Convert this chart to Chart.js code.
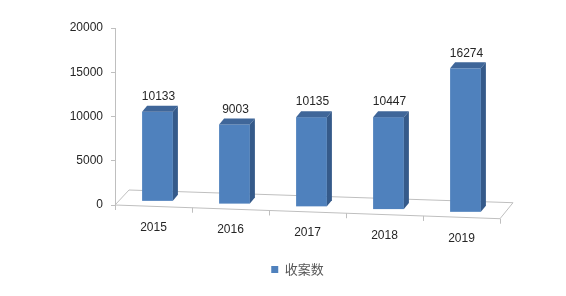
<!DOCTYPE html>
<html>
<head>
<meta charset="utf-8">
<script src="https://cdn.jsdelivr.net/npm/chart.js@4/dist/chart.umd.min.js"></script>
<style>
  html,body{margin:0;padding:0;background:#fff;}
  #wrap{width:566px;height:296px;}
</style>
</head>
<body>
<div id="wrap"><canvas id="c" width="566" height="296"></canvas></div>
<script>
// data
const years=['2015','2016','2017','2018','2019'];
const cases=[10133,9003,10135,10447,16274];
const seriesName='收案数';
const yTicks=[0,5000,10000,15000,20000];

// fake 3d look
const SLOPE=0.0356;          // floor drops to the right
const FLOOR_DX=14, FLOOR_DY=15;
const BAR_DX=5, BAR_DY=6;
const BAR_SHIFT_X=4, BAR_SHIFT_Y=-5;
const LEGEND_SHIFT=20;
const FRONT='#4F81BD', TOP='#3F6699', SIDE='#355A8A';
const LINE='#BFBFBF';
const NUM_FONT='12px "Liberation Sans", Arial, sans-serif';

const fake3d={
  id:'fake3d',
  afterLayout(chart){
    // legend sits a bit right of the canvas centre in the original
    if(chart.legend){chart.legend.left+=LEGEND_SHIFT;chart.legend.right+=LEGEND_SHIFT;}
  },
  beforeDatasetsDraw(chart){
    const {ctx,chartArea:a,scales:{x}}=chart;
    const drop=px=>SLOPE*(px-a.left);
    ctx.save();
    // floor
    ctx.strokeStyle=LINE;ctx.lineWidth=1;
    const fl=[a.left,a.bottom], fr=[a.right,a.bottom+drop(a.right)];
    ctx.beginPath();
    ctx.moveTo(fl[0],fl[1]);ctx.lineTo(fr[0],fr[1]);
    ctx.lineTo(fr[0]+FLOOR_DX-1,fr[1]-FLOOR_DY-1);
    ctx.lineTo(fl[0]+FLOOR_DX,fl[1]-FLOOR_DY);
    ctx.closePath();
    ctx.stroke();
    // ticks under the front edge
    ctx.beginPath();
    for(let i=0;i<=years.length;i++){
      const px=i<years.length?x.getPixelForValue(i)-(x.getPixelForValue(1)-x.getPixelForValue(0))/2:a.right;
      const py=a.bottom+drop(px);
      ctx.moveTo(Math.round(px)+0.5,py);ctx.lineTo(Math.round(px)+0.5,py+5);
    }
    ctx.stroke();
    // x labels following the slope
    ctx.fillStyle='#262626';ctx.font=NUM_FONT;ctx.textAlign='center';ctx.textBaseline='middle';
    years.forEach((lab,i)=>{
      const px=x.getPixelForValue(i);
      ctx.fillText(lab,px,a.bottom+21+drop(px));
    });
    // bars
    const meta=chart.getDatasetMeta(0);
    meta.data.forEach((bar,i)=>{
      const off=BAR_SHIFT_Y+drop(bar.x);
      const fx=bar.x-bar.width/2+BAR_SHIFT_X, w=bar.width;
      const top=bar.y+off, bot=bar.base+off;
      ctx.fillStyle=FRONT;ctx.fillRect(fx,top,w,bot-top);
      ctx.fillStyle=TOP;
      ctx.beginPath();
      ctx.moveTo(fx,top);ctx.lineTo(fx+BAR_DX,top-BAR_DY);ctx.lineTo(fx+w+BAR_DX,top-BAR_DY);ctx.lineTo(fx+w,top);
      ctx.closePath();ctx.fill();
      ctx.fillStyle=SIDE;
      ctx.beginPath();
      ctx.moveTo(fx+w,top);ctx.lineTo(fx+w+BAR_DX,top-BAR_DY);ctx.lineTo(fx+w+BAR_DX,bot-BAR_DY);ctx.lineTo(fx+w,bot);
      ctx.closePath();ctx.fill();
      ctx.fillStyle='#262626';ctx.font=NUM_FONT;
      ctx.fillText(String(cases[i]),fx+w/2+1,top-15);
    });
    ctx.restore();
  },
  beforeDatasetDraw(){ return false; }
};

new Chart(document.getElementById('c'),{
  type:'bar',
  data:{labels:years,datasets:[{label:seriesName,data:cases,backgroundColor:FRONT,
    categoryPercentage:0.8,barPercentage:0.5}]},
  options:{
    responsive:false,animation:false,
    layout:{padding:{left:55,right:66,top:28,bottom:10}},
    plugins:{
      legend:{position:'bottom',
        labels:{boxWidth:7,boxHeight:7,padding:10,color:'#595959',
          font:{size:13,family:'"Noto Sans CJK SC", sans-serif'}}},
      tooltip:{enabled:false}
    },
    scales:{
      x:{grid:{display:false},border:{display:false},
        ticks:{color:'rgba(0,0,0,0)'},
        afterFit(s){s.height=48;}},
      y:{min:0,max:20000,
        afterBuildTicks(s){s.ticks=yTicks.map(v=>({value:v}));},
        afterFit(s){s.width=60;},
        grid:{drawOnChartArea:false,tickLength:4,color:LINE},
        border:{color:LINE},
        ticks:{padding:8,color:'#262626',callback:v=>String(v),
          font:{size:12,family:'"Liberation Sans", Arial, sans-serif'}}}
    }
  },
  plugins:[fake3d]
});
</script>
</body>
</html>
